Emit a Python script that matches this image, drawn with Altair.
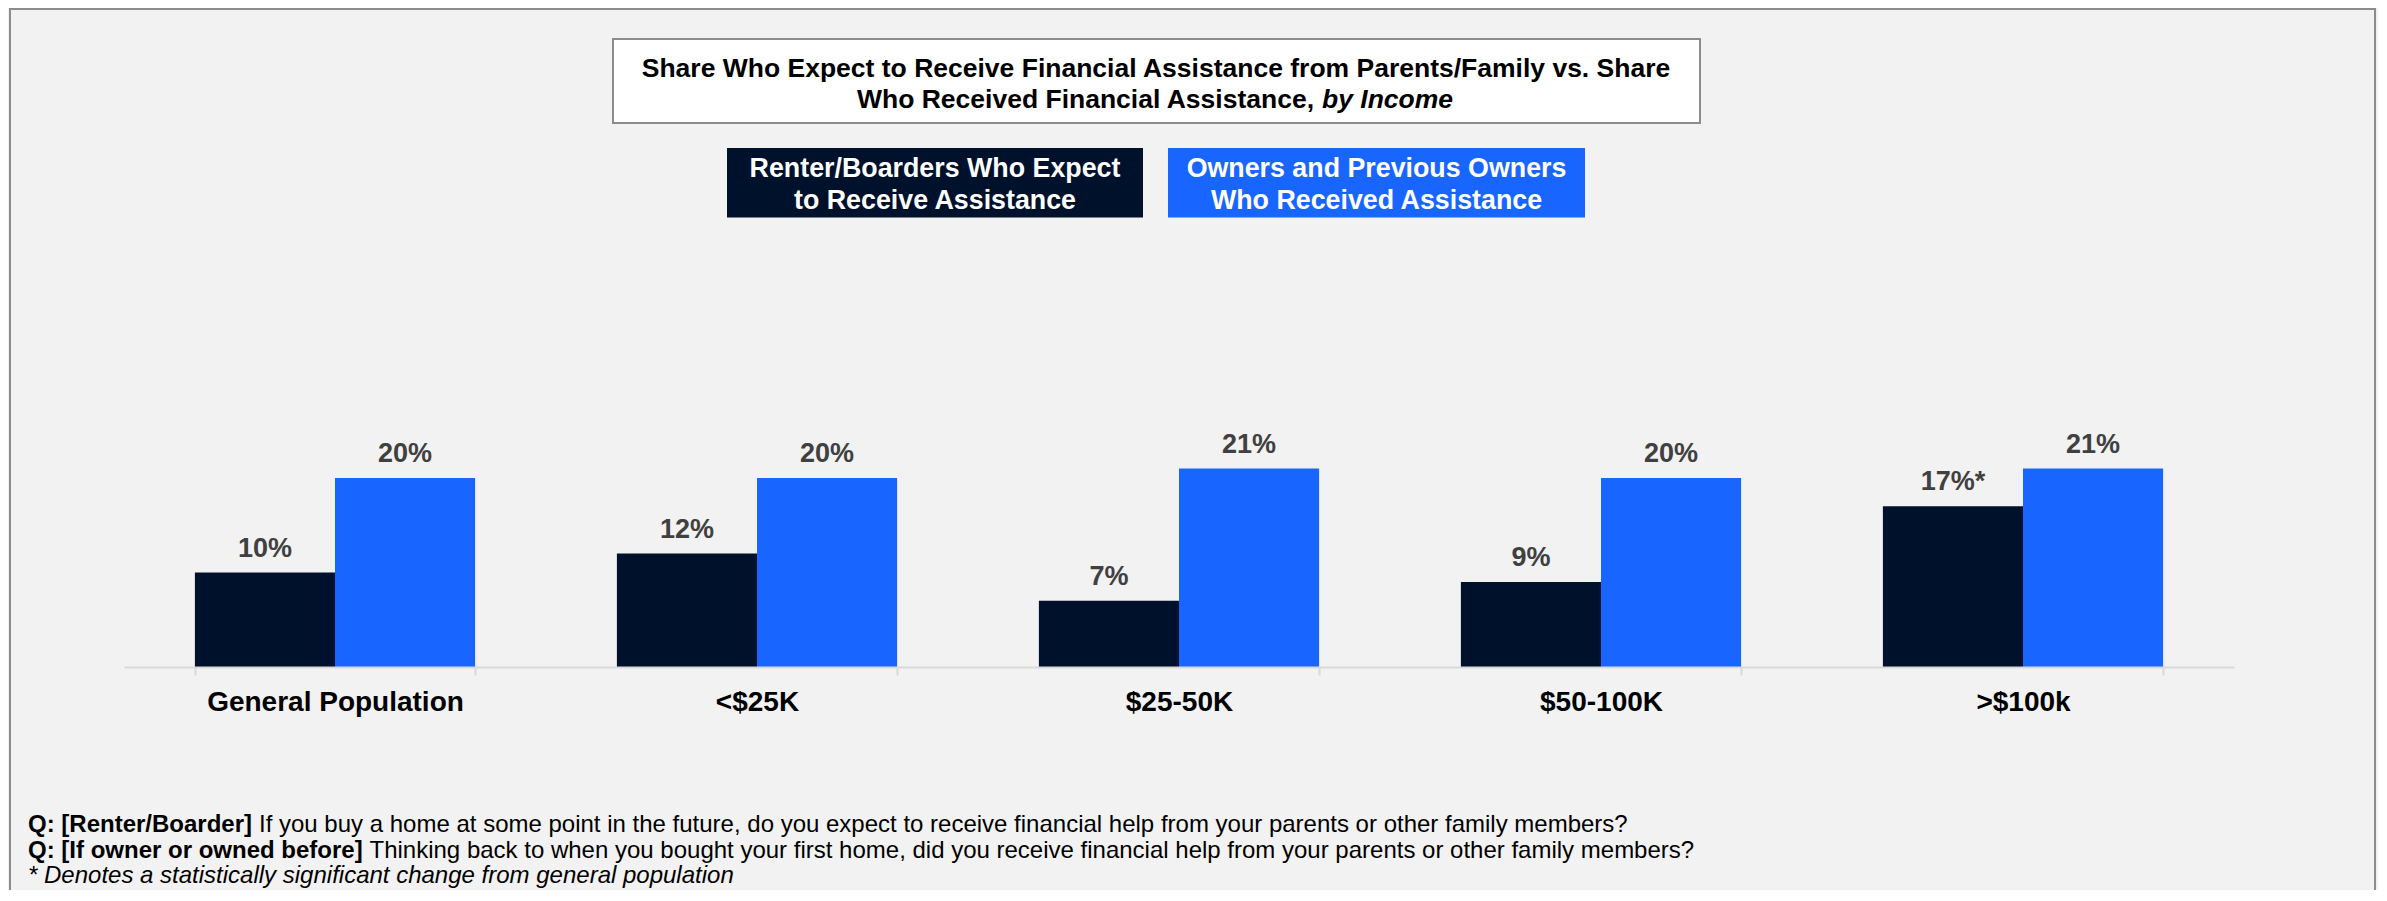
import altair as alt
import pandas as pd

# ---------------- data ----------------
categories = ["General Population", "<$25K", "$25-50K", "$50-100K", ">$100k"]
series = ["Renter/Boarders Who Expect to Receive Assistance",
          "Owners and Previous Owners Who Received Assistance"]
renter_values = [10, 12, 7, 9, 17]
owner_values = [20, 20, 21, 20, 21]
renter_significant = [False, False, False, False, True]
owner_significant = [False, False, False, False, False]
colors = ["#00112b", "#1866ff"]

title_line1 = "Share Who Expect to Receive Financial Assistance from Parents/Family vs. Share"
title_line2a = "Who Received Financial Assistance,"
title_line2b = "by Income"
legend_renter = ["Renter/Boarders Who Expect", "to Receive Assistance"]
legend_owner = ["Owners and Previous Owners", "Who Received Assistance"]
note1_bold = "Q: [Renter/Boarder]"
note1_text = "If you buy a home at some point in the future, do you expect to receive financial help from your parents or other family members?"
note2_bold = "Q: [If owner or owned before]"
note2_text = "Thinking back to when you bought your first home, did you receive financial help from your parents or other family members?"
note3 = "* Denotes a statistically significant change from general population"

rows = []
for c, v, s in zip(categories, renter_values, renter_significant):
    rows.append({"cat": c, "series": series[0], "value": v, "label": f"{v}%" + ("*" if s else "")})
for c, v, s in zip(categories, owner_values, owner_significant):
    rows.append({"cat": c, "series": series[1], "value": v, "label": f"{v}%" + ("*" if s else "")})
df = pd.DataFrame(rows)
one = pd.DataFrame({"k": [0]})

FONT = "Liberation Sans"
OX = 124  # page x of plot origin
OY = 8    # page y of plot origin
TOTAL_W, TOTAL_H = 2370, 882
W, H = 2110, 667 - OY
YMAX = H / 9.45

x_enc = alt.X("cat:N", sort=categories, title=None,
              scale=alt.Scale(paddingInner=0.336, paddingOuter=0.168),
              axis=alt.Axis(labelAngle=0, labelFontSize=28, labelFontWeight="bold",
                            labelColor="#000000", labelFont=FONT, labelPadding=13, labelLimit=0,
                            tickBand="extent", tickSize=8, tickColor="#d9d9d9", tickWidth=2,
                            domainColor="#d9d9d9", domainWidth=2, grid=False, zindex=1))
y_enc = alt.Y("value:Q", scale=alt.Scale(domain=[0, YMAX], nice=False), axis=None)
xo = alt.XOffset("series:N", sort=series, scale=alt.Scale(paddingInner=0, paddingOuter=0))

bars = alt.Chart(df).mark_bar().encode(
    x=x_enc, y=y_enc, xOffset=xo,
    color=alt.Color("series:N", sort=series, scale=alt.Scale(domain=series, range=colors), legend=None),
)
values = alt.Chart(df).mark_text(font=FONT, fontSize=27, fontWeight="bold", color="#404040",
                                 baseline="alphabetic", dy=-16).encode(
    x=x_enc, y=y_enc, xOffset=xo, text="label:N")


def box(x1, x2, y1, y2, fill, stroke=None, sw=0):
    kw = dict(fill=fill)
    if stroke:
        kw.update(stroke=stroke, strokeWidth=sw)
    return alt.Chart(one).mark_rect(**kw).encode(
        x=alt.value(x1 - OX), x2=alt.value(x2 - OX), y=alt.value(y1 - OY), y2=alt.value(y2 - OY))


def txt(s, x, y, size, color="#000000", weight="normal", style="normal", align="center"):
    return alt.Chart(one).mark_text(text=s, font=FONT, fontSize=size, fontWeight=weight,
                                    fontStyle=style, color=color, align=align,
                                    baseline="alphabetic").encode(
        x=alt.value(x - OX), y=alt.value(y - OY))


border = alt.Chart(one).mark_rect(filled=False, stroke="#8c8c8c", strokeWidth=2).encode(
    x=alt.value(10 - OX), x2=alt.value(2375 - OX), y=alt.value(1), y2=alt.value(950))

NOTE = 24
layers = [
    border,
    box(613, 1700, 39, 123, "#ffffff", "#8c8c8c", 2),
    txt(title_line1, 1156, 77, 26.5, weight="bold"),
    txt(title_line2a, 1314, 108, 26.5, weight="bold", align="right"),
    txt(title_line2b, 1322, 108, 26.5, weight="bold", style="italic", align="left"),
    box(727, 1143, 148, 217.5, colors[0]),
    box(1168, 1585, 148, 217.5, colors[1]),
    txt(legend_renter[0], 935, 176.5, 26.8, color="#ffffff", weight="bold"),
    txt(legend_renter[1], 935, 208.5, 26.8, color="#ffffff", weight="bold"),
    txt(legend_owner[0], 1376.5, 176.5, 26.8, color="#ffffff", weight="bold"),
    txt(legend_owner[1], 1376.5, 208.5, 26.8, color="#ffffff", weight="bold"),
    txt(note1_bold, 28, 832, NOTE, weight="bold", align="left"),
    txt(note1_text, 259, 832, NOTE, align="left"),
    txt(note2_bold, 28, 857.5, NOTE, weight="bold", align="left"),
    txt(note2_text, 369.5, 857.5, NOTE, align="left"),
    txt(note3, 28, 883, NOTE, style="italic", align="left"),
    bars,
    values,
]

chart = alt.layer(*layers).properties(
    width=W, height=H,
    autosize=alt.AutoSizeParams(type="none"),
    padding={"left": OX - 8, "top": 0, "right": TOTAL_W - (OX - 8) - W, "bottom": TOTAL_H - H},
    background="#f2f2f2",
).configure_view(stroke=None)

chart.save("out.html", embed_options={"renderer": "svg", "actions": False})
